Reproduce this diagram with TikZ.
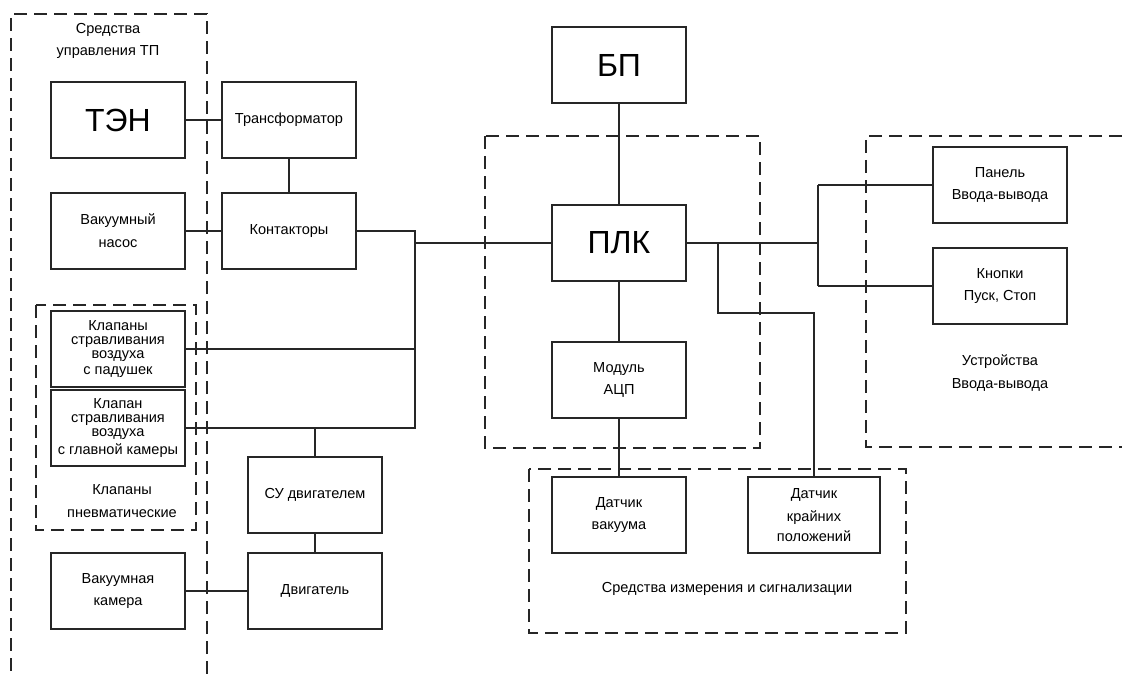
\documentclass[tikz,border=0pt]{standalone}
\usepackage{fontspec}
\setmainfont{Liberation Sans}
\begin{document}
\begin{tikzpicture}[x=0.75pt,y=-0.75pt,
  blk/.style={draw=black!85,line width=0.9pt,minimum width=100.5pt,minimum height=57pt,inner sep=0pt,align=center,font=\fontsize{10.9}{17}\selectfont},
  big/.style={font=\fontsize{24}{26}\selectfont},
  grp/.style={draw=black!85,line width=0.9pt,dash pattern=on 10pt off 5pt},
  wire/.style={draw=black!85,line width=0.9pt},
  lbl/.style={align=center,inner sep=0pt,font=\fontsize{10.9}{17}\selectfont}]
\useasboundingbox (0,0) rectangle (1122,674);
% groups
\draw[grp] (207,674) -- (207,14) -- (11,14) -- (11,674);
\node[lbl] (gl) at (108,41) {Средства\\управления ТП};
\draw[grp] (36,305) rectangle (196,530);
\node[lbl] (gk) at (122,501) {Клапаны\\пневматические};
\draw[grp] (485,136) rectangle (760,448);
\draw[grp] (1122,136) -- (866,136) -- (866,447) -- (1122,447);
\node[lbl] (gu) at (1000,373) {Устройства\\Ввода-вывода};
\draw[grp] (529,469) rectangle (906,633);
\node[lbl] (gs) at (727,589) {Средства измерения и сигнализации};
% blocks
\node[blk,big] (ten) at (118,120) {ТЭН};
\node[blk] (tr) at (289,120) {Трансформатор};
\node[blk] (vn) at (118,231) {Вакуумный\\насос};
\node[blk] (kt) at (289,231) {Контакторы};
\node[blk,font=\fontsize{10.9}{10.3}\selectfont] (kp) at (118,349) {Клапаны\\стравливания\\воздуха\\[2pt]с падушек};
\node[blk,font=\fontsize{10.9}{10.3}\selectfont] (kg) at (118,428) {Клапан\\стравливания\\воздуха\\[2pt]с главной камеры};
\node[blk] (su) at (315,495) {СУ двигателем};
\node[blk] (dv) at (315,591) {Двигатель};
\node[blk] (vk) at (118,591) {Вакуумная\\камера};
\node[blk,big] (bp) at (619,65) {БП};
\node[blk,big] (plk) at (619,243) {ПЛК};
\node[blk] (adc) at (619,380) {Модуль\\АЦП};
\node[blk] (pan) at (1000,185) {Панель\\Ввода-вывода};
\node[blk] (btn) at (1000,286) {Кнопки\\Пуск, Стоп};
\node[blk] (dvak) at (619,515) {Датчик\\вакуума};
\node[blk,minimum width=99pt,font=\fontsize{10.9}{15}\selectfont] (dkp) at (814,515) {Датчик\\[2pt]крайних\\положений};
% junctions
\coordinate (j1) at (415,231);
\coordinate (j2) at (415,243);
\coordinate (j3) at (415,349);
\coordinate (j4) at (415,428);
\coordinate (j5) at (315,428);
\coordinate (r1) at (718,243);
\coordinate (r2) at (818,243);
\coordinate (r3) at (818,185);
\coordinate (r4) at (818,286);
\coordinate (r5) at (718,313);
\coordinate (r6) at (814,313);
% wires
\draw[wire] (ten) -- (tr);
\draw[wire] (tr) -- (kt);
\draw[wire] (vn) -- (kt);
\draw[wire] (kt.east) -- (j1) -- (j4) -- (kg.east);
\draw[wire] (j2) -- (plk.west);
\draw[wire] (kp.east) -- (j3);
\draw[wire] (j5) -- (su.north);
\draw[wire] (su) -- (dv);
\draw[wire] (vk) -- (dv);
\draw[wire] (bp) -- (plk);
\draw[wire] (plk) -- (adc);
\draw[wire] (adc.south) -- (dvak.north);
\draw[wire] (plk.east) -- (r2);
\draw[wire] (r3) -- (r4);
\draw[wire] (r3) -- (pan.west);
\draw[wire] (r4) -- (btn.west);
\draw[wire] (r1) -- (r5) -- (r6) -- (dkp.north);
\end{tikzpicture}
\end{document}
